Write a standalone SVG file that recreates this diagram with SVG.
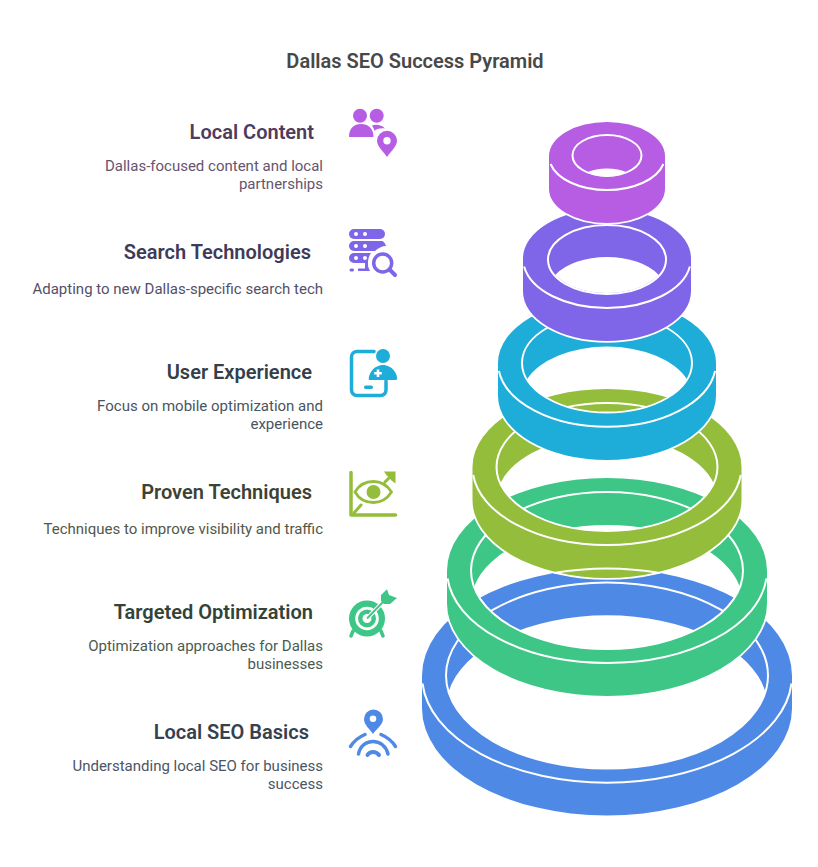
<svg xmlns="http://www.w3.org/2000/svg" width="818" height="867" viewBox="0 0 818 867">
<style>
text{font-family:Roboto,"Liberation Sans",sans-serif}
.t{font-size:20px;font-weight:600;fill:#484848;text-anchor:middle}
.h{font-size:20px;font-weight:600;text-anchor:end}
.d{font-size:15px;font-weight:400;text-anchor:end}
.l{fill:none;stroke:#fff;stroke-width:2}
.e{fill:none;stroke:#fff;stroke-width:3.5}
.w{fill:#fff}
</style>
<rect width="818" height="867" fill="#fff"/>
<text class="t" x="415" y="68">Dallas SEO Success Pyramid</text>
<g id="ring-local-seo-basics">
<path class="e" d="M422 675.500V708.500A185 107 0 0 0 792 708.500V675.500A185 107 0 0 0 422 675.500Z"/>
<path fill="#4f89e6" fill-rule="evenodd" d="M422 675.5A185 107 0 0 1 792 675.5V708.5A185 107 0 0 1 422 708.5ZM448.500 692A161 93 0 0 1 765.500 692A161 93 0 0 1 448.500 692Z"/>
<path class="l" d="M422.500 683.500A185 107 0 0 0 791.500 683.500"/>
<ellipse class="l" cx="607" cy="675.500" rx="161" ry="93"/>
</g>
<g id="ring-targeted-optimization">
<path class="e" d="M447 570.500V603.500A160 92.500 0 0 0 767 603.500V570.500A160 92.500 0 0 0 447 570.500Z"/>
<path fill="#3ec686" fill-rule="evenodd" d="M447 570.500A160 92.500 0 0 1 767 570.500V603.500A160 92.500 0 0 1 447 603.500ZM474 587A136 78.500 0 0 1 740 587A136 78.500 0 0 1 474 587Z"/>
<path class="l" d="M447.600 578.500A160 92.500 0 0 0 766.400 578.500"/>
<ellipse class="l" cx="607" cy="570.500" rx="136" ry="78.500"/>
</g>
<g id="ring-proven-techniques">
<path class="e" d="M472.500 467V500A134.500 78 0 0 0 741.500 500V467A134.500 78 0 0 0 472.500 467Z"/>
<path fill="#93bd3a" fill-rule="evenodd" d="M472.500 467A134.500 78 0 0 1 741.500 467V500A134.500 78 0 0 1 472.500 500ZM500.200 483.500A110.500 64 0 0 1 713.800 483.500A110.500 64 0 0 1 500.200 483.500Z"/>
<path class="l" d="M473.200 475A134.500 78 0 0 0 740.800 475"/>
<ellipse class="l" cx="607" cy="467" rx="110.500" ry="64"/>
<path class="l" d="M554 573A185 107 0 0 1 660 573"/>
</g>
<g id="ring-user-experience">
<path class="e" d="M498 363V396A109 64 0 0 0 716 396V363A109 64 0 0 0 498 363Z"/>
<path fill="#1eacd9" fill-rule="evenodd" d="M498 363A109 64 0 0 1 716 363V396A109 64 0 0 1 498 396ZM526.900 379.500A85 49.500 0 0 1 687.100 379.500A85 49.500 0 0 1 526.900 379.500Z"/>
<path class="l" d="M498.900 371A109 64 0 0 0 715.100 371"/>
<ellipse class="l" cx="607" cy="363" rx="85" ry="49.500"/>
</g>
<g id="ring-search-technologies">
<path class="e" d="M523 258.500V291.500A84 49.500 0 0 0 691 291.500V258.500A84 49.500 0 0 0 523 258.500Z"/>
<path fill="#7f66e8" fill-rule="evenodd" d="M523 258.500A84 49.500 0 0 1 691 258.500V291.500A84 49.500 0 0 1 523 291.500ZM555.200 275A59 34.500 0 0 1 658.800 275A59 34.500 0 0 1 555.200 275Z"/>
<path class="l" d="M524.100 266.500A84 49.500 0 0 0 689.900 266.500"/>
<ellipse class="l" cx="607" cy="259.500" rx="59" ry="34.500"/>
</g>
<g id="ring-local-content">
<path class="e" d="M549 156V189A58 34 0 0 0 665 189V156A58 34 0 0 0 549 156Z"/>
<path fill="#b65de3" fill-rule="evenodd" d="M549 156A58 34 0 0 1 665 156V189A58 34 0 0 1 549 189ZM586.500 172.500A34.500 20.500 0 0 1 627.500 172.500A34.500 20.500 0 0 1 586.500 172.500Z"/>
<path class="l" d="M550.600 164A58 34 0 0 0 663.400 164"/>
<ellipse class="l" cx="607" cy="155.500" rx="34.500" ry="20.500"/>
</g>

<g id="label-local-content">
<text class="h" x="314" y="139" fill="#4f3b5c">Local Content</text>
<text class="d" x="323" y="171" fill="#65546f">Dallas-focused content and local</text>
<text class="d" x="323" y="189" fill="#65546f">partnerships</text>
<g id="icon-local-content" fill="#b65de3">
<circle cx="360" cy="115.700" r="7"/><circle cx="376.700" cy="115.700" r="7"/>
<path d="M349 137C349 128 354 124 361 124C368 124 373.500 128 373.500 137Z"/>
<path d="M372 125.500C376 124 382 125 385 128.500C380 128 376 129 374.500 131C374 129 373 127 372 125.500Z"/>
<path fill-rule="evenodd" d="M387 157C383 151 377 146 377 140.700A10 10 0 0 1 397 140.700C397 146 391 151 387 157ZM387 137A3.700 3.700 0 0 0 387 144.400A3.700 3.700 0 0 0 387 137Z"/>
</g>
</g>
<g id="label-search-technologies">
<text class="h" x="311" y="259" fill="#3f3b56">Search Technologies</text>
<text class="d" x="323" y="294" fill="#544f69">Adapting to new Dallas-specific search tech</text>
<g id="icon-search-technologies" fill="#7f66e8">
<rect x="349" y="229" width="36" height="10" rx="5"/>
<path d="M354 241H381C384 241 385 243 386 246C382 246 378 248 375 251H354A5 5 0 0 1 354 241Z"/>
<path d="M354 253H371C369 256 368 259 368 263H354A5 5 0 0 1 354 253Z"/>
<rect x="349.500" y="268.500" width="4.500" height="3" rx="1.500"/>
<path d="M358 271V268.500H365V262H368V265C368 267 369 269 370 271Z"/>
<g class="w"><circle cx="356" cy="234" r="2"/><circle cx="365" cy="234" r="2"/><circle cx="356" cy="246" r="2"/><circle cx="365" cy="246" r="2"/><circle cx="356" cy="258" r="2"/><circle cx="365" cy="258" r="2"/></g>
<circle cx="382.700" cy="263" r="9" fill="none" stroke="#7f66e8" stroke-width="3.500"/>
<path d="M389.500 269.500L395 275" fill="none" stroke="#7f66e8" stroke-width="4" stroke-linecap="round"/>
</g>
</g>
<g id="label-user-experience">
<text class="h" x="312" y="379" fill="#33404a">User Experience</text>
<text class="d" x="323" y="411" fill="#48555f">Focus on mobile optimization and</text>
<text class="d" x="323" y="429" fill="#48555f">experience</text>
<g id="icon-user-experience" fill="#1eacd9">
<path d="M374 351.500H357A5.500 5.500 0 0 0 351.500 357V390A5.500 5.500 0 0 0 357 395.500H380.500A5.500 5.500 0 0 0 386 390V381" fill="none" stroke="#1eacd9" stroke-width="3.500" stroke-linecap="round"/>
<circle cx="383" cy="356" r="7"/>
<path d="M369.500 380C368 380 369 375 371 372C374 367 379 365 383 365C387 365 392 367 395 372C397 375 398 380 396 380Z"/>
<path class="w" d="M376.700 369.500H379.300V372H381.800V374.500H379.300V377H376.700V374.500H374.200V372H376.700Z"/>
<rect x="364" y="385.500" width="9" height="3.500" rx="1.750"/>
</g>
</g>
<g id="label-proven-techniques">
<text class="h" x="312" y="499" fill="#3d4235">Proven Techniques</text>
<text class="d" x="323" y="534" fill="#535848">Techniques to improve visibility and traffic</text>
<g id="icon-proven-techniques" fill="#93bd3a">
<path d="M351 472.500V515H395.500" fill="none" stroke="#93bd3a" stroke-width="3.500" stroke-linecap="round" stroke-linejoin="round"/>
<path d="M355 492C359 485 366 481.500 373.500 481.500C381 481.500 387 485 391.500 492C387 499 381 502.500 373.500 502.500C366 502.500 359 499 355 492Z" fill="none" stroke="#93bd3a" stroke-width="2.800"/>
<circle cx="373.500" cy="492" r="7"/>
<path d="M384 471.500H395.500V483.500L391.500 480.500L386 474.500Z"/>
<path d="M391 476L385 482M361 505L354 513" fill="none" stroke="#93bd3a" stroke-width="3" stroke-linecap="round"/>
</g>
</g>
<g id="label-targeted-optimization">
<text class="h" x="313" y="619" fill="#324339">Targeted Optimization</text>
<text class="d" x="323" y="651" fill="#4b5b50">Optimization approaches for Dallas</text>
<text class="d" x="323" y="669" fill="#4b5b50">businesses</text>
<g id="icon-targeted-optimization" fill="#3ec686">
<circle cx="367" cy="618.500" r="18"/>
<circle cx="367" cy="618.500" r="11.800" class="w"/>
<circle cx="367" cy="618.500" r="9"/>
<circle cx="367" cy="618.500" r="4.500" class="w"/>
<path d="M367 618.500L385 600" stroke="#fff" stroke-width="4" fill="none"/>
<path d="M367 618.500L383 602" stroke="#3ec686" stroke-width="1.800" fill="none"/>
<path d="M381 595L387 589.300L389 595L397 598L390 604L384 604L381 601Z"/>
<path d="M353 631L351 636M381 631L383 636" stroke="#3ec686" stroke-width="3.500" stroke-linecap="round" fill="none"/>
</g>
</g>
<g id="label-local-seo-basics">
<text class="h" x="309" y="739" fill="#36404f">Local SEO Basics</text>
<text class="d" x="323" y="771" fill="#4b5564">Understanding local SEO for business</text>
<text class="d" x="323" y="789" fill="#4b5564">success</text>
<g id="icon-local-seo-basics">
<path fill="#4f89e6" fill-rule="evenodd" d="M373 734C370 729 364 725 364 719A9.500 9.500 0 0 1 383 719C383 725 376 729 373 734ZM373 715.500A3.300 3.300 0 0 0 373 722.100A3.300 3.300 0 0 0 373 715.500Z"/>
<path d="M350.500 746.500C354 741 359 737 365 734.500M395.500 746.500C392 741 387 737 381 734.500M358.500 754C360 746 366 741.500 373 741.500C380 741.500 386 746 388 754" fill="none" stroke="#4f89e6" stroke-width="3.500" stroke-linecap="round"/>
<path d="M367.500 755C370 751 376 751 379 755" fill="none" stroke="#4f89e6" stroke-width="4" stroke-linecap="round"/>
</g>
</g>
</svg>
